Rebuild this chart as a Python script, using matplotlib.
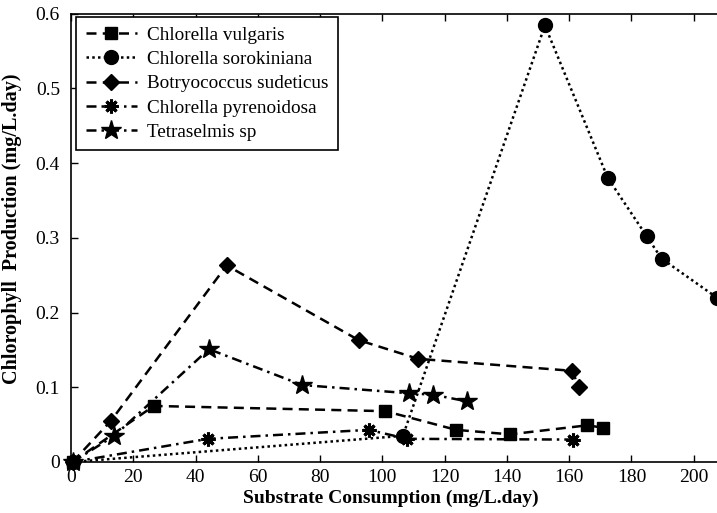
import matplotlib
matplotlib.use("Agg")
import matplotlib.pyplot as plt

plt.rcParams['font.family'] = ['Liberation Serif', 'DejaVu Serif']

# data
vulgaris_x = [0.5, 26.6, 101, 123.7, 141, 165.7, 170.9]
vulgaris_y = [0, 0.075, 0.068, 0.043, 0.037, 0.049, 0.046]

sorokiniana_x = [0.5, 106.6, 152.2, 172.4, 184.9, 189.7, 207.4]
sorokiniana_y = [0, 0.035, 0.584, 0.380, 0.302, 0.272, 0.220]

botryo_x = [0.5, 12.8, 50, 92.4, 111.5, 160.9, 163.1]
botryo_y = [0, 0.055, 0.263, 0.163, 0.138, 0.122, 0.101]

pyreno_x = [0.5, 44, 95.6, 108, 161.2]
pyreno_y = [0, 0.031, 0.043, 0.031, 0.030]

tetra_x = [0.5, 13.9, 44.3, 74.2, 108.4, 116.4, 127.3]
tetra_y = [0, 0.035, 0.151, 0.103, 0.092, 0.090, 0.081]

x_ticks = [0, 20, 40, 60, 80, 100, 120, 140, 160, 180, 200]
y_ticks = [0, 0.1, 0.2, 0.3, 0.4, 0.5, 0.6]
y_labels = ['0', '0.1', '0.2', '0.3', '0.4', '0.5', '0.6']

fig = plt.figure(figsize=(7.17, 5.13), dpi=100)
# axes run past the right edge of the figure, like the cropped original
ax = fig.add_axes([71 / 717, 51 / 513, 685 / 717, 448.5 / 513])

lw = 1.8
ax.plot(vulgaris_x, vulgaris_y, color='black', linestyle=(0, (4, 2.5)), linewidth=lw,
        marker='s', markersize=9, label='Chlorella vulgaris', clip_on=False)
ax.plot(sorokiniana_x, sorokiniana_y, color='black', linestyle=(0, (1, 1.3)), linewidth=lw,
        marker='o', markersize=10, label='Chlorella sorokiniana', clip_on=False)
ax.plot(botryo_x, botryo_y, color='black', linestyle=(0, (4, 2.5)), linewidth=lw,
        marker='D', markersize=8.5, label='Botryococcus sudeticus', clip_on=False)
ax.plot(pyreno_x, pyreno_y, color='black', linestyle=(0, (4, 2, 1, 2)), linewidth=lw,
        marker=(8, 2, 0), markersize=10, markeredgewidth=2.2, label='Chlorella pyrenoidosa',
        clip_on=False)
ax.plot(tetra_x, tetra_y, color='black', linestyle=(0, (4, 2, 1, 2)), linewidth=lw,
        marker='*', markersize=15, label='Tetraselmis sp', clip_on=False)

ax.set_xlim(0, 220)
ax.set_ylim(0, 0.6)
ax.set_xticks(x_ticks)
ax.set_xticklabels([str(t) for t in x_ticks])
ax.set_yticks(y_ticks)
ax.set_yticklabels(y_labels)
ax.tick_params(direction='in', top=True, right=True, length=5, width=1, labelsize=14)
ax.tick_params(axis='x', pad=5)
ax.tick_params(axis='y', pad=8)
for s in ax.spines.values():
    s.set_linewidth(1.2)

ax.set_xlabel('Substrate Consumption (mg/L.day)', fontsize=14, fontweight='bold', labelpad=1)
ax.xaxis.set_label_coords(320 / 685, -0.062)
ax.set_ylabel('Chlorophyll  Production (mg/L.day)', fontsize=14.5, fontweight='bold')
ax.yaxis.set_label_coords(-49 / 685, 0.52)

leg = ax.legend(loc='upper left', bbox_to_anchor=(5 / 685, 0.993), fontsize=13.8,
                frameon=True, fancybox=False, edgecolor='black', framealpha=1,
                handlelength=2.7, handletextpad=0.5, borderpad=0.5, labelspacing=0.36,
                borderaxespad=0)
leg.get_frame().set_linewidth(1.2)

fig.savefig('out.png', dpi=100)
